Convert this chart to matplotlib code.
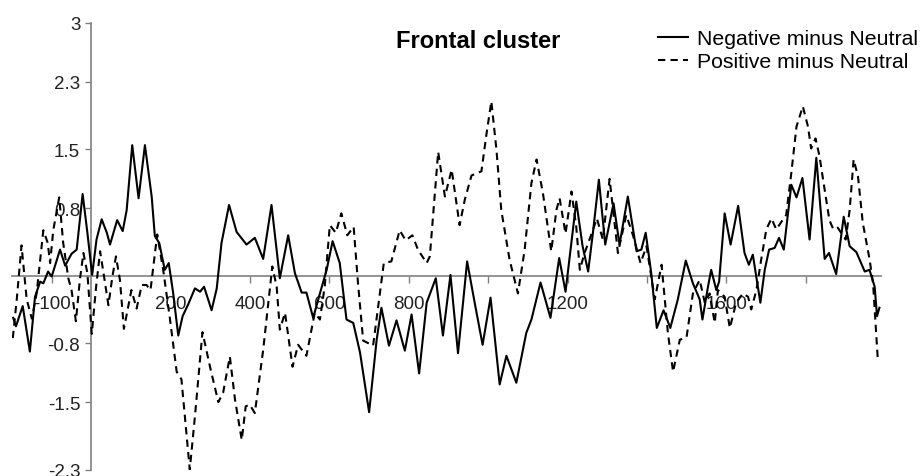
import matplotlib
matplotlib.use("Agg")
import matplotlib.pyplot as plt
from matplotlib.lines import Line2D

plt.rcParams['font.family'] = ['Liberation Sans', 'DejaVu Sans']

# Negative minus Neutral (solid) - time in ms, amplitude
neg_ms = [-197, -190, -173, -155, -142, -129, -121, -109, -100, -79,
          -66, -50, -37, -22, -10, 2, 13, 26, 39, 47,
          65, 79, 89, 103, 119, 135, 152, 160, 171, 185,
          195, 206, 219, 230, 244, 261, 274, 284, 303, 316,
          328, 347, 366, 391, 412, 433, 454, 475, 496, 513,
          530, 542, 559, 576, 593, 608, 626, 643, 660, 677,
          700, 719, 731, 750, 769, 790, 807, 826, 845, 868,
          886, 905, 924, 947, 966, 986, 1006, 1029, 1046, 1071,
          1096, 1109, 1132, 1157, 1179, 1195, 1222, 1238, 1252, 1264,
          1279, 1295, 1316, 1331, 1352, 1374, 1386, 1397, 1411, 1425,
          1442, 1459, 1478, 1498, 1516, 1533, 1540, 1554, 1562, 1575,
          1582, 1596, 1611, 1630, 1646, 1657, 1667, 1686, 1697, 1708,
          1722, 1733, 1745, 1764, 1777, 1792, 1810, 1827, 1848, 1859,
          1877, 1896, 1911, 1928, 1949, 1961, 1974, 1980, 1986]
neg_uv = [-0.50, -0.60, -0.36, -0.90, -0.25, -0.07, -0.09, 0.05, -0.01, 0.31,
          0.12, 0.26, 0.31, 0.97, 0.51, 0.01, 0.43, 0.67, 0.51, 0.37,
          0.66, 0.53, 0.78, 1.55, 0.92, 1.55, 0.94, 0.47, 0.39, 0.07,
          0.15, -0.20, -0.71, -0.48, -0.34, -0.15, -0.19, -0.13, -0.41, -0.15,
          0.39, 0.84, 0.52, 0.37, 0.45, 0.20, 0.84, -0.03, 0.48, 0.03,
          -0.20, -0.20, -0.50, -0.21, 0.07, 0.41, 0.15, -0.52, -0.56, -0.91,
          -1.62, -0.76, -0.38, -0.83, -0.53, -0.89, -0.46, -1.16, -0.32, -0.03,
          -0.71, 0.01, -0.92, 0.17, -0.32, -0.82, -0.26, -1.29, -0.95, -1.27,
          -0.68, -0.52, -0.08, -0.50, 0.21, -0.19, 0.88, 0.35, 0.05, 0.51,
          1.14, 0.37, 0.86, 0.37, 0.94, 0.29, 0.31, 0.51, 0.03, -0.62,
          -0.41, -0.62, -0.28, 0.18, -0.09, -0.28, -0.52, -0.13, 0.07, -0.17,
          -0.07, 0.74, 0.37, 0.83, 0.27, 0.13, 0.25, -0.32, 0.07, 0.31,
          0.33, 0.45, 0.31, 1.08, 0.93, 1.16, 0.43, 1.40, 0.20, 0.27,
          0.02, 0.70, 0.35, 0.28, 0.05, 0.07, -0.13, -0.48, -0.38]

# Positive minus Neutral (dashed)
pos_ms = [-198, -188, -176, -163, -150, -138, -121, -110, -104, -96,
          -81, -71, -58, -50, -39, -29, -20, -10, 1, 12,
          22, 32, 43, 53, 62, 72, 82, 93, 101, 114,
          127, 139, 149, 166, 181, 198, 215, 227, 248, 261,
          280, 299, 320, 332, 349, 362, 379, 389, 399, 412,
          433, 456, 467, 475, 488, 507, 521, 542, 563, 576,
          588, 601, 616, 630, 645, 661, 672, 685, 710, 723,
          737, 756, 777, 792, 809, 823, 845, 853, 874, 891,
          908, 928, 941, 958, 983, 996, 1008, 1021, 1033, 1054,
          1075, 1092, 1109, 1122, 1138, 1159, 1172, 1180, 1195, 1210,
          1222, 1231, 1243, 1260, 1274, 1289, 1306, 1327, 1348, 1365,
          1384, 1399, 1420, 1437, 1453, 1466, 1483, 1500, 1516, 1533,
          1546, 1558, 1571, 1579, 1596, 1609, 1625, 1642, 1655, 1663,
          1676, 1688, 1701, 1714, 1726, 1739, 1751, 1764, 1777, 1793,
          1806, 1814, 1825, 1835, 1848, 1860, 1870, 1881, 1901, 1911,
          1921, 1932, 1944, 1961, 1970, 1982]
pos_uv = [-0.74, -0.28, 0.36, -0.28, -0.51, -0.21, 0.54, 0.39, 0.15, 0.54,
          0.93, 0.39, -0.03, -0.17, -0.54, -0.05, 0.27, 0.03, -0.69, -0.13,
          0.29, -0.01, -0.35, -0.01, 0.23, -0.05, -0.63, -0.36, -0.17, -0.39,
          -0.11, -0.11, -0.17, 0.49, 0.07, -0.51, -1.14, -1.23, -2.30, -1.67,
          -0.67, -1.08, -1.50, -1.39, -0.96, -1.47, -1.95, -1.55, -1.53, -1.63,
          -0.88, 0.11, -0.13, -0.64, -0.44, -1.08, -0.82, -0.95, -0.44, -0.52,
          -0.13, 0.60, 0.51, 0.74, 0.48, 0.58, -0.09, -0.77, -0.83, -0.36,
          0.15, 0.17, 0.54, 0.42, 0.48, 0.31, 0.15, 0.23, 1.47, 0.94,
          1.26, 0.60, 0.90, 1.19, 1.24, 1.69, 2.07, 1.49, 0.78, 0.19,
          -0.21, 0.31, 1.10, 1.38, 0.98, 0.29, 0.78, 0.92, 0.50, 1.00,
          0.58, 0.07, 0.27, 0.49, 0.68, 0.43, 1.15, 0.27, 0.72, 0.48,
          0.15, 0.35, -0.28, 0.13, -0.68, -1.14, -0.76, -0.73, -0.21, -0.05,
          -0.32, -0.21, -0.56, -0.17, -0.25, -0.62, -0.32, -0.21, -0.25, -0.40,
          -0.17, 0.19, 0.55, 0.68, 0.55, 0.64, 0.72, 1.22, 1.77, 2.01,
          1.77, 1.51, 1.63, 1.42, 1.02, 0.66, 0.55, 0.57, 0.43, 0.78,
          1.38, 1.18, 0.63, 0.20, -0.09, -1.00]

x_ticks = [-100, 200, 400, 600, 800, 1000, 1200, 1400, 1600, 1800]
x_labels = ['-100', '200', '400', '600', '800', '', '1200', '', '1600', '']
y_ticks = [3, 2.3, 1.5, 0.8, 0, -0.8, -1.5, -2.3]
y_labels = ['3', '2.3', '1.5', '0.8', '', '-0.8', '-1.5', '-2.3']

fig = plt.figure(figsize=(9.21, 4.77), dpi=100)
ax = fig.add_axes([12/921, 1 - 470.5/477, 869/921, 446.5/477])

ax.plot(neg_ms, neg_uv, color='black', lw=1.5, zorder=3,
        label='Negative minus Neutral')
ax.plot(pos_ms, pos_uv, color='black', lw=1.5, ls=(0, (3.5, 2.5)), zorder=3,
        label='Positive minus Neutral')

ax.set_xlim(-200, 1990)
ax.set_ylim(-2.3, 3)

grey = '#808080'
ax.spines['top'].set_visible(False)
ax.spines['right'].set_visible(False)
ax.spines['left'].set_position(('data', 0))
ax.spines['bottom'].set_position(('data', 0))
for s in ['left', 'bottom']:
    ax.spines[s].set_color(grey)
    ax.spines[s].set_linewidth(1.2)
    ax.spines[s].set_zorder(1)
ax.set_axisbelow(True)

ax.set_xticks(x_ticks)
ax.set_xticklabels(x_labels)
ax.set_yticks(y_ticks)
ax.set_yticklabels(y_labels)
ax.tick_params(axis='x', direction='out', length=5, width=1, color=grey,
               pad=9, labelsize=13.5, labelcolor='#222222')
ax.tick_params(axis='y', direction='out', length=4, width=1, color=grey,
               pad=4, labelsize=13.5, labelcolor='#222222')

fig.text(478/921, 1 - 42/477, 'Frontal cluster', ha='center', va='center',
         fontsize=17, fontweight='bold')

handles = [Line2D([], [], color='black', lw=1.5),
           Line2D([], [], color='black', lw=1.5, ls=(0, (3.5, 2.5)))]
fig.legend(handles, ['Negative minus Neutral', 'Positive minus Neutral'],
           loc='upper left', bbox_to_anchor=(658/921, 1 - 30/477),
           frameon=False, borderpad=0, borderaxespad=0, handlelength=1.4,
           handletextpad=0.45, labelspacing=0.2, fontsize=15.3)

fig.savefig('out.png', dpi=100)
